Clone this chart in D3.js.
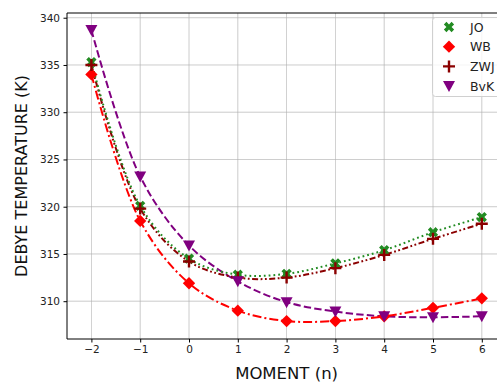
<!DOCTYPE html>
<html><head><meta charset="utf-8">
<script src="https://cdn.jsdelivr.net/npm/d3@7"></script>
<style>body{margin:0;background:#fff;overflow:hidden}</style>
</head><body>
<script>
const moments = [-2, -1, 0, 1, 2, 3, 4, 5, 6];
const JO  = [335.3, 320.1, 314.5, 312.8, 312.9, 314.0, 315.4, 317.3, 318.9];
const WB  = [334.0, 318.5, 311.9, 309.0, 307.9, 307.9, 308.4, 309.3, 310.3];
const ZWJ = [335.0, 319.8, 314.2, 312.5, 312.5, 313.5, 314.9, 316.6, 318.2];
const BvK = [338.7, 323.2, 315.9, 312.1, 309.9, 308.9, 308.4, 308.3, 308.4];
const xTicks = [-2, -1, 0, 1, 2, 3, 4, 5, 6];
const yTicks = [310, 315, 320, 325, 330, 335, 340];
const seriesNames = ["JO", "WB", "ZWJ", "BvK"];

const W = 497, H = 383;
const L = 67, T = 13, B = 339;
const x = d3.scaleLinear().domain([-2.5, 6.5]).range([L, L + 9 * 48.8]);
const y = d3.scaleLinear().domain([306, 340.5]).range([B, T]);

const svg = d3.select("body").append("svg").attr("width", W).attr("height", H)
  .style("font-family", "DejaVu Sans, sans-serif");

const R = x.range()[1];
svg.append("g").selectAll("line").data(xTicks).join("line")
  .attr("x1", d => x(d)).attr("x2", d => x(d)).attr("y1", T).attr("y2", B)
  .attr("stroke", "#b0b0b0").attr("stroke-width", 0.8).attr("opacity", 0.8);
svg.append("g").selectAll("line").data(yTicks).join("line")
  .attr("x1", L).attr("x2", R).attr("y1", d => y(d)).attr("y2", d => y(d))
  .attr("stroke", "#b0b0b0").attr("stroke-width", 0.8).attr("opacity", 0.8);

const styles = {
  JO:  {color: "#228B22", dash: "1.8,3"},
  WB:  {color: "#ff0000", dash: "9,3,2,3"},
  ZWJ: {color: "#8B0000", dash: "6,2.5,1.8,2.5,1.8,2.5"},
  BvK: {color: "#800080", dash: "7.4,3.2"}
};
const data = {JO, WB, ZWJ, BvK};
const line = d3.line().x((d, i) => x(moments[i])).y(d => y(d)).curve(d3.curveCatmullRom.alpha(0.5));

svg.append("defs").append("clipPath").attr("id", "c").append("rect")
  .attr("x", L).attr("y", T).attr("width", R - L).attr("height", B - T);
const plot = svg.append("g").attr("clip-path", "url(#c)");

["BvK", "WB", "ZWJ", "JO"].forEach(n => {
  plot.append("path").attr("d", line(data[n])).attr("fill", "none")
    .attr("stroke", styles[n].color).attr("stroke-width", 2)
    .attr("stroke-dasharray", styles[n].dash);
});

function marker(g, n, cx, cy) {
  const c = styles[n].color;
  if (n === "JO") {
    g.append("path").attr("d", d3.symbol(d3.symbolCross, 66)())
      .attr("transform", `translate(${cx},${cy}) rotate(45)`).attr("fill", c);
  } else if (n === "WB") {
    g.append("path").attr("d", d3.symbol(d3.symbolSquare, 76)())
      .attr("transform", `translate(${cx},${cy}) rotate(45)`).attr("fill", c);
  } else if (n === "ZWJ") {
    g.append("path").attr("d", `M${cx-6},${cy}H${cx+6}M${cx},${cy-6}V${cy+6}`)
      .attr("stroke", c).attr("stroke-width", 2.4);
  } else {
    g.append("path").attr("d", `M${cx-6},${cy-5}L${cx+6},${cy-5}L${cx},${cy+6}Z`).attr("fill", c);
  }
}
["JO", "WB", "ZWJ", "BvK"].forEach(n => {
  const g = plot.append("g");
  data[n].forEach((v, i) => marker(g, n, x(moments[i]), y(v)));
});

svg.append("line").attr("x1", L).attr("x2", L).attr("y1", T).attr("y2", B).attr("stroke", "#000").attr("stroke-width", 1);
svg.append("line").attr("x1", L).attr("x2", R).attr("y1", B).attr("y2", B).attr("stroke", "#000").attr("stroke-width", 1);
svg.append("line").attr("x1", L).attr("x2", R).attr("y1", T).attr("y2", T).attr("stroke", "#000").attr("stroke-width", 1);

const xa = svg.append("g").attr("transform", `translate(0,${B})`)
  .call(d3.axisBottom(x).tickValues(xTicks).tickSize(3.5).tickPadding(3.5).tickFormat(d => d < 0 ? "\u2212" + Math.abs(d) : d));
const ya = svg.append("g").attr("transform", `translate(${L},0)`)
  .call(d3.axisLeft(y).tickValues(yTicks).tickSize(3.5).tickPadding(3.5));
[xa, ya].forEach(a => {
  a.select(".domain").remove();
  a.selectAll("text").attr("font-size", 10.5).attr("fill", "#222").style("font-family", "DejaVu Sans, sans-serif");
  a.selectAll("line").attr("stroke", "#000");
});

svg.append("text").attr("x", (L + R) / 2).attr("y", 379).attr("text-anchor", "middle")
  .attr("font-size", 16.5).attr("fill", "#111").text("MOMENT (n)");
svg.append("text").attr("transform", `translate(27,${(T + B) / 2}) rotate(-90)`).attr("text-anchor", "middle")
  .attr("font-size", 16).attr("fill", "#111").text("DEBYE TEMPERATURE (K)");

const lg = svg.append("g");
lg.append("rect").attr("x", 432.5).attr("y", 17.5).attr("width", 80).attr("height", 79).attr("rx", 3)
  .attr("fill", "#fff").attr("fill-opacity", 0.8).attr("stroke", "#d0d0d0");
seriesNames.forEach((n, i) => {
  const cy = 27 + i * 19.7;
  marker(lg, n, 449, cy);
  lg.append("text").attr("x", 470).attr("y", cy + 4.5).attr("font-size", 12.5).attr("fill", "#222").text(n);
});
</script>
</body></html>
